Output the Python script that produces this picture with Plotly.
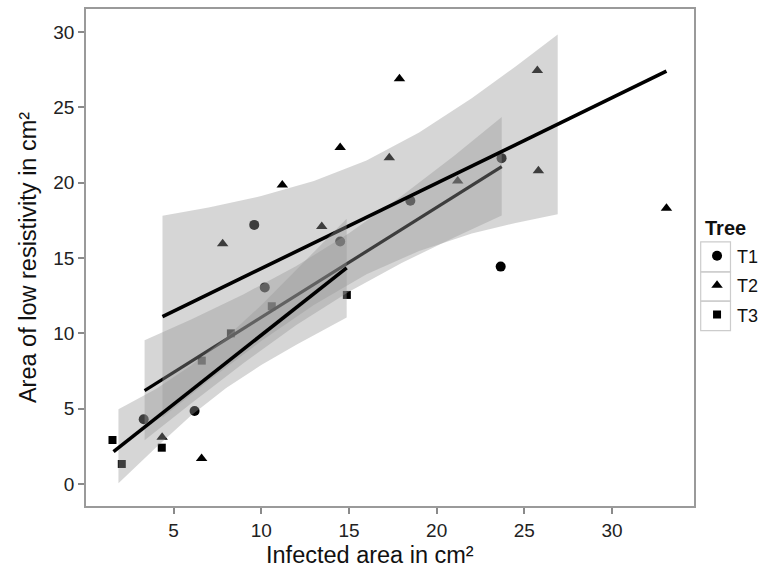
import numpy as np
import plotly.graph_objects as go

# ---- data ----
t1_x = [3.3, 6.2, 9.6, 10.2, 14.5, 18.5, 23.65, 23.7]
t1_y = [4.3, 4.85, 17.2, 13.05, 16.1, 18.8, 14.43, 21.63]
t2_x = [4.35, 6.6, 7.8, 11.2, 13.45, 14.5, 17.3, 17.88, 21.2, 25.74, 25.8, 33.1]
t2_y = [3.1, 1.7, 15.95, 19.85, 17.1, 22.33, 21.65, 26.9, 20.12, 27.45, 20.8, 18.3]
t3_x = [1.52, 2.05, 4.33, 6.61, 8.27, 10.6, 14.88]
t3_y = [2.92, 1.33, 2.41, 8.19, 10.0, 11.8, 12.55]

# fitted lines (end points)
fit1_x = [3.35, 23.71]
fit1_y = [6.2, 21.07]
fit2_x = [4.37, 33.1]
fit2_y = [11.11, 27.4]
fit3_x = [1.58, 14.87]
fit3_y = [2.15, 14.35]

# confidence bands
band1_x = [3.35, 6, 9, 12, 15, 18, 21, 23.71]
band1_lo = [2.9, 5.34, 8.04, 10.55, 12.76, 14.67, 16.37, 17.83]
band1_hi = [9.54, 10.92, 12.60, 14.47, 16.64, 19.11, 21.79, 24.36]
band2_x = [4.37, 7, 10, 13, 16, 19, 22, 24.5, 26.9]
band2_lo = [4.42, 6.85, 9.49, 11.89, 13.92, 15.47, 16.62, 17.33, 17.91]
band2_hi = [17.8, 18.35, 19.11, 20.11, 21.48, 23.33, 25.6, 27.71, 29.84]
band3_x = [1.86, 4, 6, 8, 10, 12, 14.87]
band3_lo = [0.05, 2.43, 4.55, 6.37, 7.90, 9.25, 11.05]
band3_hi = [4.96, 6.31, 7.87, 9.73, 11.86, 14.19, 17.6]

tick_vals_x = [5, 10, 15, 20, 25, 30]
tick_vals_y = [0, 5, 10, 15, 20, 25, 30]
tree_names = ["T1", "T2", "T3"]

FONT = "Liberation Sans, Arial, Helvetica, sans-serif"
BAND = "rgba(153,153,153,0.4)"

fig = go.Figure()

symbols = ["circle", "triangle-up", "square"]
sizes = [10, 10, 8]
for name, xs, ys, sym, sz in zip(tree_names, [t1_x, t2_x, t3_x], [t1_y, t2_y, t3_y], symbols, sizes):
    fig.add_trace(go.Scatter(
        x=xs, y=ys, mode="markers", name=name, legendgroup=name,
        marker=dict(symbol=sym, size=sz, color="black", line=dict(width=0)),
        hoverinfo="skip"))

def band(xs, lo, hi):
    xx = np.concatenate([np.array(xs), np.array(xs)[::-1]])
    yy = np.concatenate([np.array(hi), np.array(lo)[::-1]])
    return go.Scatter(x=xx, y=yy, mode="lines", fill="toself", fillcolor=BAND,
                      line=dict(width=0), showlegend=False, hoverinfo="skip")

for bx, blo, bhi, fx, fy, w in [
        (band1_x, band1_lo, band1_hi, fit1_x, fit1_y, 3.2),
        (band2_x, band2_lo, band2_hi, fit2_x, fit2_y, 3.6),
        (band3_x, band3_lo, band3_hi, fit3_x, fit3_y, 3.6)]:
    fig.add_trace(band(bx, blo, bhi))
    fig.add_trace(go.Scatter(x=fx, y=fy, mode="lines", line=dict(color="black", width=w),
                             showlegend=False, hoverinfo="skip"))

# legend key boxes
box_edges = [0.5315, 0.4711, 0.4121, 0.3529]
for i in range(3):
    fig.add_shape(type="rect", xref="paper", yref="paper",
                  x0=1.011, x1=1.060, y0=box_edges[i + 1], y1=box_edges[i],
                  line=dict(color="#cccccc", width=1.2), fillcolor="rgba(0,0,0,0)", layer="below")

# legend title
fig.add_annotation(text="<b>Tree</b>", xref="paper", yref="paper", x=1.0148, y=0.559,
                   xanchor="left", yanchor="middle", showarrow=False,
                   font=dict(family=FONT, size=20, color="#111111"))

# x axis title (slightly left of panel centre, as in the reference)
fig.add_annotation(text="Infected area in cm²", xref="paper", yref="paper", x=0.467, y=-0.099,
                   xanchor="center", yanchor="middle", showarrow=False,
                   font=dict(family=FONT, size=23.5, color="#111111"))

axis_common = dict(
    showgrid=False, zeroline=False, showline=True, mirror=True, automargin=False,
    linecolor="#9a9a9a", linewidth=1.5,
    ticks="outside", ticklen=6, tickwidth=1.5, tickcolor="#8a8a8a",
    tickfont=dict(family=FONT, size=19, color="#222222"),
)

fig.update_layout(
    template="none",
    width=761, height=574,
    margin=dict(l=86, r=67, t=9, b=68, autoexpand=False),
    paper_bgcolor="white", plot_bgcolor="white",
    xaxis=dict(range=[0.01, 34.67], tickvals=tick_vals_x, **axis_common),
    yaxis=dict(range=[-1.46, 31.53], tickvals=tick_vals_y,
               title=dict(text="Area of low resistivity in cm²", font=dict(family=FONT, size=23.5, color="#111111"), standoff=10),
               **axis_common),
    legend=dict(font=dict(family=FONT, size=18, color="#111111"),
                x=1.005, xanchor="left", y=0.540, yanchor="top",
                tracegroupgap=3, bgcolor="rgba(0,0,0,0)", itemsizing="trace"),
)

fig.write_html("out.html", config={"displayModeBar": False},
               post_script="document.body.style.margin='0';document.body.style.overflow='hidden';")
